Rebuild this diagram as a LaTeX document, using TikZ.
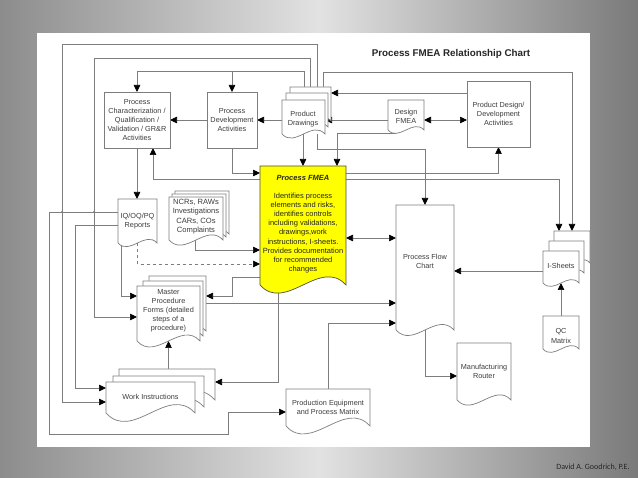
\documentclass[tikz,border=0pt]{standalone}
\usepackage{fontspec}
\setmainfont{Liberation Sans}
\newfontfamily\authorfont{Carlito}
\usetikzlibrary{arrows.meta,calc}
\pgfdeclarelayer{back}
\pgfdeclarelayer{lines}
\pgfsetlayers{back,lines,main}
\definecolor{linec}{RGB}{125,125,125}
\definecolor{textc}{RGB}{60,60,60}
\definecolor{fmeay}{RGB}{255,255,0}
\definecolor{bgL}{RGB}{140,140,140}
\definecolor{bgM}{RGB}{226,226,226}
\definecolor{bgR}{RGB}{122,122,122}
\tikzset{
  geom/.style={inner sep=0pt, outer sep=0pt, anchor=north west},
  box/.style={geom, draw=linec, fill=white, line width=0.7pt, align=center,
    font=\fontsize{7.3}{9.1}\selectfont, text=textc},
  docst/.style={draw=linec, fill=white, line width=0.7pt},
  fmeast/.style={draw=black!70, fill=fmeay, line width=0.7pt},
  txt/.style={align=center, font=\fontsize{7.3}{9.1}\selectfont, text=textc, inner sep=0pt},
  conn/.style={draw=linec, line width=0.7pt},
  arr/.style={conn, -{Triangle[length=7pt,width=6.5pt,color=black]}},
  darr/.style={conn, {Triangle[length=7pt,width=6.5pt,color=black]}-{Triangle[length=7pt,width=6.5pt,color=black]}},
}
\newcommand\docshape[5]{%
  \pgfmathsetmacro\dw{#4-#2}%
  \draw[#1] (#2,#3) -- (#4,#3) -- (#4,#5) .. controls ({#4-0.3*\dw},{#5-0.33*\dw}) and ({#2+0.3*\dw},{#5+0.33*\dw}) .. (#2,#5) -- cycle;}
\newcommand\docnode[6]{%
  \pgfmathsetmacro\dw{#4-#2}\pgfmathsetmacro\dh{#5-#3}%
  \node[geom, minimum width=\dw pt, minimum height=\dh pt] (#1) at (#2,#3) {};
  \docshape{#6}{#2}{#3}{#4}{#5}}
\begin{document}
\begin{tikzpicture}[x=1pt,y=-1pt]
\useasboundingbox (0,0) rectangle (638,478);
\begin{pgfonlayer}{back}
\shade[left color=bgL, right color=bgR, middle color=bgM] (0,0) rectangle (638,478);
\fill[white] (37,33) rectangle (590,447);
\end{pgfonlayer}

\node[font=\fontsize{9.8}{12}\selectfont\bfseries, text=black!85] (title) at (451,54) {Process FMEA Relationship Chart};
\node[font=\authorfont\fontsize{8}{10}\selectfont, text=black!85] (author) at (593,467) {David A. Goodrich, P.E.};

% rectangles
\node[box, minimum width=66pt, minimum height=56pt] (pchar) at (104,92) {Process\\Characterization /\\Qualification /\\Validation / GR\&R\\Activities};
\node[box, minimum width=50pt, minimum height=56pt] (pdev) at (207,92) {Process\\Development\\Activities};
\node[box, minimum width=63pt, minimum height=66pt] (pdes) at (467,81) {Product Design/\\Development\\Activities};

% documents
\docnode{pdraw3}{290}{87}{331}{121}{docst}
\docnode{pdraw2}{286}{93}{328}{127}{docst}
\docnode{pdraw}{282}{100}{325}{134}{docst}
\docnode{dfmea}{388}{100}{424}{130}{docst}
\docnode{pfmea}{260}{166}{346}{285}{fmeast}
\docnode{iq}{118}{199}{157}{243}{docst}
\docnode{ncr3}{175}{191}{229}{234}{docst}
\docnode{ncr2}{172}{194}{226}{237}{docst}
\docnode{ncr}{169}{197}{223}{240}{docst}
\docnode{master3}{149}{276}{206}{331}{docst}
\docnode{master2}{143}{281}{203}{336}{docst}
\docnode{master}{137}{286}{200}{341}{docst}
\docnode{wi3}{119}{369}{215}{400}{docst}
\docnode{wi2}{113}{376}{204}{407}{docst}
\docnode{wi}{106}{382}{195}{413}{docst}
\docnode{peq}{286}{389}{370}{426}{docst}
\docnode{pfc}{396}{205}{454}{330}{docst}
\docnode{router}{457}{343}{511}{400}{docst}
\docnode{isheet3}{554}{231}{590}{263}{docst}
\docnode{isheet2}{549}{241}{584}{273}{docst}
\docnode{isheet}{543}{251}{579}{283}{docst}
\docnode{qc}{543}{316}{579}{349}{docst}

% texts
\node[txt] (pdraw-t) at (303,119.5) {Product\\Drawings};
\node[txt] (dfmea-t) at (406,116.5) {Design\\FMEA};
\node[txt, font=\fontsize{7.5}{9.1}\selectfont, text=black!85] (pfmea-t) at (303,224) {\textbf{\textit{Process FMEA}}\\[9.1pt]Identifies process\\elements and risks,\\identifies controls\\including validations,\\drawings,work\\instructions, I-sheets.\\Provides documentation\\for recommended\\changes};
\node[txt] (iq-t) at (137.5,221) {IQ/OQ/PQ\\Reports};
\node[txt, font=\fontsize{7.6}{9.3}\selectfont] (ncr-t) at (196,216.5) {NCRs, RAWs\\Investigations\\CARs, COs\\Complaints};
\node[txt] (master-t) at (168.5,311) {Master\\Procedure\\Forms (detailed\\steps of a\\procedure)};
\node[txt] (wi-t) at (150.5,397) {Work Instructions};
\node[txt] (peq-t) at (328,407.5) {Production Equipment\\and Process Matrix};
\node[txt] (pfc-t) at (425,261.5) {Process Flow\\Chart};
\node[txt] (router-t) at (484,371.5) {Manufacturing\\Router};
\node[txt] (isheet-t) at (561,266) {I-Sheets};
\node[txt] (qc-t) at (561,336) {QC\\Matrix};

\coordinate (j1) at (232,71);

\begin{pgfonlayer}{lines}
\draw[arr] (pdraw3.north -| 317,0) |- (62,44) |- (wi.west |- 0,402);
\draw[arr] (pdraw3.north -| 310,0) |- (94,58) |- (master.west |- 0,317);
\draw[arr] (pdraw3.north -| 304,0) |- (137,71) -- (pchar.north);
\draw[arr] (j1) -- (pdev.north);
\draw[arr] (pdraw3.north -| 323,0) |- (572,72) -- (isheet3.north -| 572,0);
\draw[arr] (iq.west |- 0,212) -| (49,434) -| (228,412) -- (peq.west |- 0,412);
\fill[linec] (62,212) circle (1.1pt) (94,212) circle (1.1pt);
\draw[arr] (iq.west |- 0,225) -| (75,388) -- (wi.west |- 0,388);
\draw[arr] (iq.south -| 121,0) |- (master.west |- 0,296);
\draw[arr, dashed] (iq.south) |- (pfmea.west |- 0,264);
\draw[arr] (ncr.south -| 195,0) |- (pfmea.west |- 0,250);
\draw[arr] (pchar.south) -- (pchar.south |- iq.north);
\draw[arr] (pfmea.west |- 0,179) -| (pchar.south -| 153,0);
\draw[arr] (pdev.south) |- (pfmea.west |- 0,173);
\draw[arr] (pdraw.south -| pfmea.north) -- (pfmea.north);
\draw[arr] ([shift={(8,3)}]dfmea.south west) -| (pfmea.north -| 337,0);
\draw[arr] (dfmea.west |- 0,120) -- (pdraw.east |- 0,120);
\draw[darr] (dfmea.east |- 0,120) -- (pdes.west |- 0,120);
\draw[arr] (pdes.west |- 0,93) -- (pdraw3.east |- 0,93);
\draw[arr] (pdev.west) -- (pchar.east);
\draw[arr] (pdraw.west |- pdev.east) -- (pdev.east);
\draw[arr] (pdraw.south -| 317,0) |- (425,149) -- (pfc.north);
\draw[arr] (pfmea.east |- 0,173) -| (pdes.south);
\draw[arr] (pfmea.east |- 0,179) -| (isheet3.north -| 559,0);
\draw[darr] (pfmea.east |- 0,238) -- (pfc.west |- 0,238);
\draw[arr] (isheet.west |- 0,271) -- (pfc.east |- 0,271);
\draw[arr] (qc.north) -- (isheet.south -| qc.north);
\draw[arr] (pfmea.west |- 0,277) -| (232,296) -- (master3.east |- 0,296);
\draw[arr] (pfmea.south -| 278,0) |- (wi3.east |- 0,382);
\draw[arr] (master.east |- 0,303) -- (pfc.west |- 0,303);
\draw[arr] (peq.north) |- (pfc.west |- 0,323);
\draw[arr] (pfc.south) |- (router.west |- 0,376);
\draw[arr] (wi3.north -| master.south) -- (master.south);
\end{pgfonlayer}
\end{tikzpicture}
\end{document}
